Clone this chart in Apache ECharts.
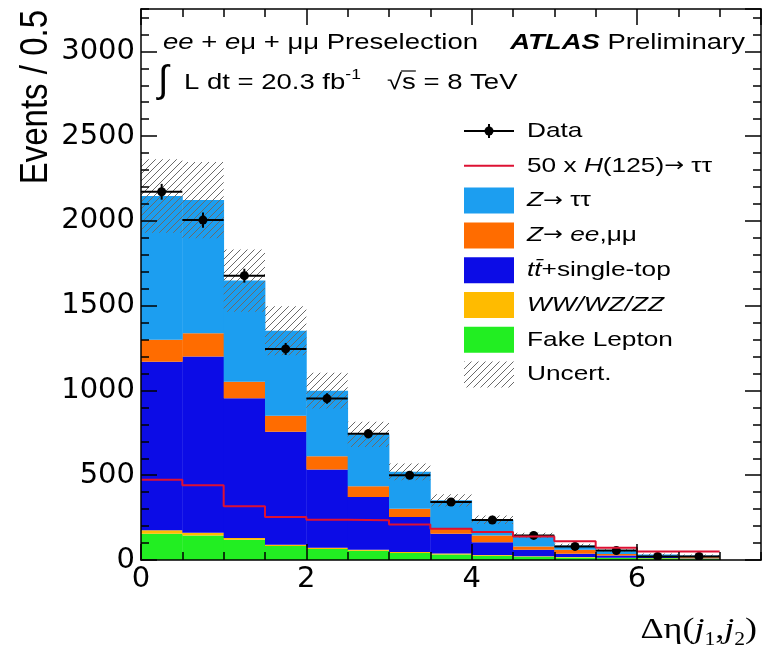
<!DOCTYPE html>
<html>
<head>
<meta charset="utf-8">
<script src="https://cdn.jsdelivr.net/npm/echarts@6/dist/echarts.min.js"></script>
<style>
  html, body { margin: 0; padding: 0; background: #fff; }
  #chart { width: 769px; height: 657px; }
</style>
</head>
<body>
<div id="chart"></div>
<script>
// bin edges of delta-eta(j1,j2), width 0.5
const binEdges = [0, 0.5, 1, 1.5, 2, 2.5, 3, 3.5, 4, 4.5, 5, 5.5, 6, 6.5, 7];

// stacked backgrounds, bottom to top (events / 0.5)
const fakeLepton = [155, 145, 120, 83, 65, 55, 42, 33, 25, 19, 15, 12, 10, 8];
const diboson    = [20, 15, 10, 7, 7, 6, 5, 5, 4, 3, 3, 2, 2, 2];
const ttbar      = [995, 1040, 824, 666, 462, 311, 206, 117, 76, 38, 19, 13, 6, 4];
const zll        = [129, 138, 98, 95, 78, 63, 50, 30, 40, 20, 23, 8, 4, 4];
const ztautau    = [848, 785, 596, 501, 387, 306, 217, 167, 93, 65, 26, 21, 11, 9];

const dataCounts = [2172, 2005, 1677, 1245, 952, 745, 500, 342, 236, 145, 80, 56, 21, 21];
const higgs50    = [474, 441, 317, 253, 238, 234, 210, 185, 165, 139, 111, 72, 50, 50];
const mcUncert   = [217, 225, 183, 144, 106, 74, 49, 36, 25, 15, 10, 8, 5, 5];

const yTickStep = 500;
const xTickStep = 2;

const SANS = '"Liberation Sans", Arial, sans-serif';
const SERIF = '"Liberation Serif", "Times New Roman", serif';
const ARROW = '"DejaVu Sans", sans-serif';
const STRETCH = 1.25;

const nBins = binEdges.length - 1;

const mctx = document.createElement('canvas').getContext('2d');
function textWidth(text, font) {
  mctx.font = font;
  return mctx.measureText(text).width;
}

function makeHatch() {
  const c = document.createElement('canvas');
  c.width = 7;
  c.height = 7;
  const g = c.getContext('2d');
  g.strokeStyle = '#6a6a6a';
  g.lineWidth = 1;
  g.beginPath();
  g.moveTo(0, 7); g.lineTo(7, 0);
  g.moveTo(-3.5, 3.5); g.lineTo(3.5, -3.5);
  g.moveTo(3.5, 10.5); g.lineTo(10.5, 3.5);
  g.stroke();
  return {image: c, repeat: 'repeat'};
}
const hatch = makeHatch();

function renderBin(params, api) {
  const p0 = api.coord([api.value(0), api.value(3)]);
  const p1 = api.coord([api.value(1), api.value(2)]);
  return {
    type: 'rect',
    shape: {x: p0[0], y: p0[1], width: p1[0] - p0[0] + 0.4, height: p1[1] - p0[1]},
    style: {fill: api.visual('color')},
  };
}

const components = [
  {name: 'Fake Lepton', values: fakeLepton, color: '#22ee22'},
  {name: 'WW/WZ/ZZ', values: diboson, color: '#ffbb00'},
  {name: 'ttbar', values: ttbar, color: '#0c0ce6'},
  {name: 'Zll', values: zll, color: '#ff6c00'},
  {name: 'Ztautau', values: ztautau, color: '#1c9ef0'},
];

const series = [];
let base = new Array(nBins).fill(0);
components.forEach(c => {
  const items = c.values.map((v, i) => [binEdges[i], binEdges[i + 1], base[i], base[i] + v]);
  base = base.map((b, i) => b + c.values[i]);
  series.push({
    type: 'custom',
    name: c.name,
    renderItem: renderBin,
    clip: true,
    itemStyle: {color: c.color},
    encode: {x: [0, 1], y: [2, 3]},
    data: items,
  });
});
const totalMC = base;

series.push({
  type: 'custom',
  name: 'Uncert.',
  clip: true,
  renderItem: (params, api) => {
    const p0 = api.coord([api.value(0), api.value(3)]);
    const p1 = api.coord([api.value(1), api.value(2)]);
    return {
      type: 'rect',
      shape: {x: p0[0], y: p0[1], width: p1[0] - p0[0], height: p1[1] - p0[1]},
      style: {fill: hatch},
    };
  },
  encode: {x: [0, 1], y: [2, 3]},
  data: totalMC.map((t, i) => [binEdges[i], binEdges[i + 1], t - mcUncert[i], t + mcUncert[i]]),
});

series.push({
  type: 'line',
  name: 'Higgs',
  step: 'end',
  symbol: 'none',
  lineStyle: {color: '#dd1133', width: 2},
  data: binEdges.map((e, i) => [e, higgs50[Math.min(i, nBins - 1)]]),
});

series.push({
  type: 'custom',
  name: 'Data',
  clip: true,
  renderItem: (params, api) => {
    const c = api.coord([api.value(0), api.value(1)]);
    const l = api.coord([api.value(2), api.value(1)]);
    const r = api.coord([api.value(3), api.value(1)]);
    const lo = api.coord([api.value(0), api.value(1) - api.value(4)]);
    const hi = api.coord([api.value(0), api.value(1) + api.value(4)]);
    const st = {stroke: '#000', lineWidth: 2};
    return {
      type: 'group',
      children: [
        {type: 'line', shape: {x1: l[0], y1: c[1], x2: r[0], y2: c[1]}, style: st},
        {type: 'line', shape: {x1: c[0], y1: lo[1], x2: c[0], y2: hi[1]}, style: st},
        {type: 'circle', shape: {cx: c[0], cy: c[1], r: 4.5}, style: {fill: '#000'}},
      ],
    };
  },
  encode: {x: 0, y: 1},
  data: dataCounts.map((d, i) => [
    (binEdges[i] + binEdges[i + 1]) / 2, d, binEdges[i], binEdges[i + 1], Math.sqrt(d),
  ]),
});

// text helpers
function textRun(parts, x, y, opts = {}) {
  let cx = 0;
  const children = parts.map(p => {
    const el = {
      type: 'text',
      x: cx,
      y: p.dy || 0,
      style: {text: p.t, font: p.f, fill: '#000', verticalAlign: 'middle', align: 'left'},
    };
    cx += textWidth(p.t, p.f);
    return el;
  });
  const sx = opts.scaleX || STRETCH;
  return {
    type: 'group',
    x: opts.right ? x - cx * sx : x,
    y: y,
    scaleX: sx,
    children: children,
    z: 20,
  };
}

const f22 = `22px ${SANS}`;
const i22 = `italic 22px ${SANS}`;
const f21 = `21px ${SANS}`;
const i21 = `italic 21px ${SANS}`;
const a21 = `19px ${ARROW}`;

const graphics = [];

graphics.push(textRun([
  {t: 'ee', f: i22}, {t: ' + ', f: f22}, {t: 'e', f: i22}, {t: 'μ + μμ Preselection', f: f22},
], 163, 43));
graphics.push(textRun([
  {t: 'ATLAS', f: `italic bold 22px ${SANS}`}, {t: ' Preliminary', f: f22},
], 745, 43, {right: true}));

graphics.push(textRun([{t: '∫', f: `38px ${SANS}`}], 158, 82, {scaleX: 1}));
graphics.push(textRun([
  {t: 'L dt = 20.3 fb', f: f22}, {t: '-1', f: `14px ${SANS}`, dy: -8},
], 184, 83));
graphics.push(textRun([{t: '√s = 8 TeV', f: f22}], 387, 83));
{
  const wRad = textWidth('√', f22) * STRETCH;
  const wS = textWidth('s', f22) * STRETCH;
  graphics.push({
    type: 'line', z: 20,
    shape: {x1: 387 + wRad - 1, y1: 71, x2: 387 + wRad + wS, y2: 71},
    style: {stroke: '#000', lineWidth: 1.2},
  });
}

// legend
const legendRows = [
  {kind: 'data', parts: [{t: 'Data', f: f21}]},
  {kind: 'line', parts: [{t: '50 x ', f: f21}, {t: 'H', f: i21}, {t: '(125)', f: f21}, {t: '→', f: a21}, {t: ' ττ', f: f21}]},
  {kind: 'box', color: '#1c9ef0', parts: [{t: 'Z', f: i21}, {t: '→', f: a21}, {t: ' ττ', f: f21}]},
  {kind: 'box', color: '#ff6c00', parts: [{t: 'Z', f: i21}, {t: '→', f: a21}, {t: ' ', f: f21}, {t: 'ee', f: i21}, {t: ',μμ', f: f21}]},
  {kind: 'box', color: '#0c0ce6', parts: [{t: 'tt\u0304', f: i21}, {t: '+single-top', f: f21}]},
  {kind: 'box', color: '#ffbb00', parts: [{t: 'WW/WZ/ZZ', f: i21}]},
  {kind: 'box', color: '#22ee22', parts: [{t: 'Fake Lepton', f: f21}]},
  {kind: 'hatch', parts: [{t: 'Uncert.', f: f21}]},
];
const legX = 464, legW = 50, legH = 26, legTop = 131, legStep = 34.8;
legendRows.forEach((row, k) => {
  const cy = legTop + k * legStep;
  if (row.kind === 'data') {
    graphics.push({type: 'line', z: 20, shape: {x1: legX, y1: cy, x2: legX + legW, y2: cy}, style: {stroke: '#000', lineWidth: 2}});
    graphics.push({type: 'line', z: 20, shape: {x1: legX + legW / 2, y1: cy - 7, x2: legX + legW / 2, y2: cy + 7}, style: {stroke: '#000', lineWidth: 2}});
    graphics.push({type: 'circle', z: 20, shape: {cx: legX + legW / 2, cy: cy, r: 4.5}, style: {fill: '#000'}});
  } else if (row.kind === 'line') {
    graphics.push({type: 'line', z: 20, shape: {x1: legX, y1: cy, x2: legX + legW, y2: cy}, style: {stroke: '#dd1133', lineWidth: 2}});
  } else {
    graphics.push({
      type: 'rect', z: 20,
      shape: {x: legX, y: cy - legH / 2, width: legW, height: legH},
      style: {fill: row.kind === 'hatch' ? hatch : row.color},
    });
  }
  graphics.push(textRun(row.parts, 527, cy));
});

// axis titles
graphics.push({
  type: 'text', z: 20,
  x: 37, y: 10,
  rotation: Math.PI / 2,
  scaleY: 1.15,
  style: {text: 'Events / 0.5', font: `33px ${SANS}`, fill: '#000', align: 'right', verticalAlign: 'middle'},
});
graphics.push(textRun([
  {t: 'Δη(', f: `30px ${SERIF}`}, {t: 'j', f: `italic 30px ${SERIF}`}, {t: '1', f: `18px ${SERIF}`, dy: 10},
  {t: ',', f: `30px ${SERIF}`}, {t: 'j', f: `italic 30px ${SERIF}`}, {t: '2', f: `18px ${SERIF}`, dy: 10},
  {t: ')', f: `30px ${SERIF}`},
], 757, 630, {right: true, scaleX: 1.2}));

const axisBase = {
  type: 'value',
  splitLine: {show: false},
  z: 10,
};
const tickStyle = {color: '#000', width: 1.5};
const frameLine = {show: true, onZero: false, lineStyle: {color: '#000', width: 1.5}};
const noLine = {show: false, onZero: false};
const labelStyle = {fontFamily: '"DejaVu Sans", sans-serif', fontSize: 29, color: '#000', formatter: v => String(v)};

function mkAxis(position, max, step, major, labels) {
  return Object.assign({}, axisBase, {
    position: position, min: 0, max: max, interval: step,
    axisLine: major ? frameLine : noLine,
    axisTick: {show: true, inside: true, length: major ? 16 : 8, lineStyle: tickStyle},
    axisLabel: labels ? Object.assign({showMaxLabel: false}, labels) : {show: false},
  });
}

const xAxis = [
  mkAxis('bottom', 7.5, xTickStep, true, Object.assign({margin: 5}, labelStyle)),
  mkAxis('bottom', 7.5, 0.5, false, null),
  mkAxis('top', 7.5, xTickStep, true, null),
  mkAxis('top', 7.5, 0.5, false, null),
];
const yAxis = [
  mkAxis('left', 3250, yTickStep, true, Object.assign({margin: 6}, labelStyle)),
  mkAxis('left', 3250, 100, false, null),
  mkAxis('right', 3250, yTickStep, true, null),
  mkAxis('right', 3250, 100, false, null),
];

series.forEach(s => { s.xAxisIndex = 0; s.yAxisIndex = 0; s.z = 2; });

const chart = echarts.init(document.getElementById('chart'), null, {renderer: 'canvas'});
chart.setOption({
  animation: false,
  backgroundColor: '#fff',
  grid: {left: 141, right: 8, top: 9, bottom: 97, containLabel: false, outerBoundsMode: 'none'},
  xAxis: xAxis,
  yAxis: yAxis,
  series: series,
  graphic: graphics,
});
</script>
</body>
</html>
